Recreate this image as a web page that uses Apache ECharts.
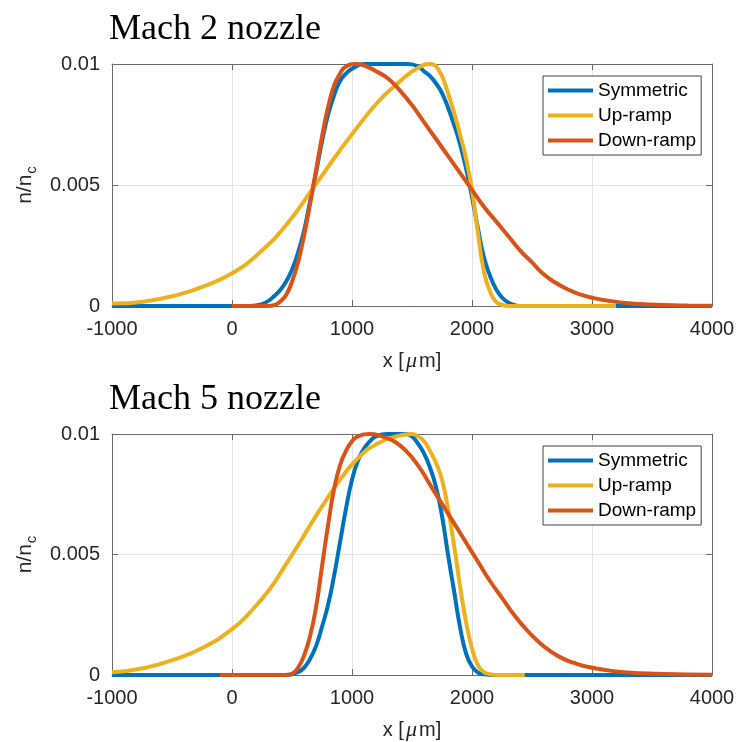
<!DOCTYPE html>
<html>
<head>
<meta charset="utf-8">
<script src="https://cdn.jsdelivr.net/npm/echarts@6/dist/echarts.min.js"></script>
<style>
html,body{margin:0;padding:0;background:#fff;}
#chart{width:740px;height:742px;}
</style>
</head>
<body>
<div id="chart"></div>
<script>
// ---- data (x in micrometres, y = n/n_c) ----
var seriesNames = ['Symmetric', 'Up-ramp', 'Down-ramp'];
var panelTitles = ['Mach 2 nozzle', 'Mach 5 nozzle'];
var xTicks = [-1000, 0, 1000, 2000, 3000, 4000];
var yTicks = [0, 0.005, 0.01];

var m2Symmetric = [[-1000,0],[0,0],[150,0],[200,0.00002],[250,0.00008],[300,0.0002],[350,0.0004],[400,0.00065],[450,0.001],[500,0.0015],[550,0.0022],[600,0.0031],[650,0.0043],[700,0.0055],[750,0.0068],[800,0.0079],[850,0.0087],[900,0.0093],[950,0.0096],[1000,0.0098],[1100,0.01],[1450,0.01],[1550,0.0099],[1600,0.0097],[1650,0.0095],[1700,0.0092],[1750,0.0088],[1800,0.0082],[1850,0.0075],[1900,0.0067],[1950,0.0057],[2000,0.0045],[2050,0.0032],[2100,0.002],[2150,0.00125],[2200,0.0007],[2250,0.00035],[2300,0.00015],[2350,0.00005],[2400,0],[3000,0],[4000,0]];
var m2UpRamp = [[-1000,0.0001],[-740,0.00018],[-460,0.00045],[-240,0.0008],[0,0.00135],[240,0.00225],[460,0.0034],[680,0.0049],[880,0.0063],[1000,0.0071],[1210,0.0084],[1380,0.0092],[1570,0.0099],[1660,0.01],[1700,0.0099],[1750,0.0095],[1800,0.0088],[1850,0.008],[1900,0.0071],[1950,0.0061],[2000,0.0048],[2050,0.003],[2100,0.0014],[2150,0.0006],[2200,0.00018],[2250,0.00005],[2300,0],[2800,0],[3200,0]];
var m2DownRamp = [[0,0],[300,0],[350,0.00003],[400,0.00018],[450,0.00045],[500,0.001],[550,0.0018],[600,0.0029],[650,0.0042],[700,0.0056],[750,0.007],[800,0.0082],[850,0.0091],[900,0.0096],[950,0.0099],[1040,0.01],[1120,0.0099],[1200,0.0097],[1300,0.0094],[1400,0.0089],[1500,0.0083],[1600,0.0076],[1700,0.0069],[1800,0.0062],[1900,0.0055],[2000,0.0048],[2100,0.0041],[2200,0.0035],[2300,0.0029],[2400,0.0023],[2500,0.0018],[2600,0.0013],[2700,0.00095],[2800,0.00068],[2900,0.00048],[3000,0.00034],[3200,0.00017],[3400,0.00008],[3600,0.00004],[3800,0.00002],[4000,0.00001]];

var m5Symmetric = [[-1000,0],[0,0],[450,0],[500,0.00003],[550,0.00012],[600,0.0003],[650,0.00066],[700,0.0012],[750,0.002],[800,0.0029],[850,0.0041],[900,0.0055],[950,0.0069],[1000,0.0081],[1050,0.0089],[1100,0.0094],[1150,0.0097],[1200,0.0099],[1300,0.01],[1450,0.01],[1500,0.0099],[1550,0.0096],[1600,0.0092],[1650,0.0086],[1700,0.0078],[1750,0.0066],[1800,0.005],[1850,0.0035],[1900,0.002],[1950,0.0009],[2000,0.00035],[2050,0.0001],[2100,0.00003],[2170,0],[3000,0],[4000,0]];
var m5UpRamp = [[-1000,0.00011],[-740,0.00028],[-470,0.00066],[-240,0.00114],[0,0.0019],[150,0.0026],[320,0.0036],[450,0.0046],[540,0.0053],[650,0.0062],[790,0.0073],[930,0.0083],[1070,0.0091],[1210,0.0096],[1370,0.0099],[1500,0.01],[1550,0.0099],[1600,0.0097],[1650,0.0093],[1700,0.0088],[1750,0.0081],[1800,0.0069],[1850,0.0054],[1900,0.0037],[1950,0.0022],[2000,0.0011],[2050,0.0004],[2100,0.00012],[2150,0.00003],[2200,0],[2440,0]];
var m5DownRamp = [[-100,0],[450,0],[500,0.00005],[550,0.0003],[600,0.0008],[650,0.0016],[700,0.0028],[750,0.0045],[800,0.0062],[850,0.0077],[900,0.0087],[950,0.0093],[1000,0.0097],[1050,0.0099],[1150,0.01],[1250,0.0099],[1350,0.0097],[1450,0.0093],[1550,0.0087],[1650,0.0079],[1750,0.0071],[1850,0.0063],[1950,0.0055],[2050,0.0047],[2150,0.0039],[2250,0.0032],[2350,0.0025],[2450,0.0019],[2550,0.0014],[2650,0.001],[2750,0.0007],[2850,0.0005],[3000,0.0003],[3200,0.00015],[3400,0.00007],[3600,0.00004],[3800,0.00002],[4000,0.00001]];

var colors = ['#0072BD', '#EDB120', '#D95319'];

// ---- layout ----
var axisColor = '#6b6b6b';
var textColor = '#262626';
var gridTops = [64, 434];
var plotH = 242;

var chart = echarts.init(document.getElementById('chart'), null, {renderer: 'canvas'});

var grids = [], xAxes = [], yAxes = [], titles = [], legends = [], series = [];
var panels = [[m2Symmetric, m2UpRamp, m2DownRamp], [m5Symmetric, m5UpRamp, m5DownRamp]];

function boxAxisLine() {
  return {show: true, onZero: false, lineStyle: {color: axisColor, width: 1}};
}
function inTicks() {
  return {show: true, inside: true, length: 6, lineStyle: {color: axisColor}};
}

panels.forEach(function (sets, p) {
  grids.push({left: 112, width: 600, top: gridTops[p], height: plotH, containLabel: false});
  titles.push({
    text: panelTitles[p], left: 109, top: gridTops[p] - 52, padding: 0,
    textStyle: {fontFamily: 'Liberation Serif', fontSize: 36, fontWeight: 'normal', color: '#000'}
  });
  xAxes.push({
    type: 'value', gridIndex: p, position: 'bottom', min: xTicks[0], max: xTicks[xTicks.length - 1], interval: 1000,
    axisLine: boxAxisLine(), axisTick: inTicks(),
    axisLabel: {fontFamily: 'Liberation Sans', fontSize: 20, color: textColor, margin: 13,
      formatter: function (v) { return String(v); }},
    splitLine: {show: true, lineStyle: {color: '#e3e3e3', width: 1}},
    name: 'x [{mu|μ}m]', nameLocation: 'middle', nameGap: 44,
    nameTextStyle: {fontFamily: 'Liberation Sans', fontSize: 20, color: textColor,
      rich: {mu: {fontFamily: 'Liberation Serif', fontStyle: 'italic', fontSize: 22, color: textColor, padding: [0, 2, 0, 2]}}}
  });
  xAxes.push({
    type: 'value', gridIndex: p, position: 'top', min: xTicks[0], max: xTicks[xTicks.length - 1], interval: 1000,
    axisLine: boxAxisLine(), axisTick: inTicks(),
    axisLabel: {show: false}, splitLine: {show: false}
  });
  yAxes.push({
    type: 'value', gridIndex: p, position: 'left', min: yTicks[0], max: yTicks[yTicks.length - 1], interval: 0.005,
    axisLine: boxAxisLine(), axisTick: inTicks(),
    axisLabel: {fontFamily: 'Liberation Sans', fontSize: 20, color: textColor, margin: 12,
      formatter: function (v) { return String(v); }},
    splitLine: {show: true, lineStyle: {color: '#e3e3e3', width: 1}},
    name: 'n/n{c|c}', nameLocation: 'middle', nameRotate: 90, nameGap: 70,
    nameTextStyle: {fontFamily: 'Liberation Sans', fontSize: 21, color: textColor,
      rich: {c: {fontFamily: 'Liberation Sans', fontSize: 15, color: textColor, padding: [12, 0, 0, 1]}}}
  });
  yAxes.push({
    type: 'value', gridIndex: p, position: 'right', min: yTicks[0], max: yTicks[yTicks.length - 1], interval: 0.005,
    axisLine: boxAxisLine(), axisTick: inTicks(),
    axisLabel: {show: false}, splitLine: {show: false}
  });
  legends.push({
    data: seriesNames, orient: 'vertical', left: 543, top: gridTops[p] + 12,
    padding: [5, 5, 5, 5], itemGap: 6, itemWidth: 45, itemHeight: 4, icon: 'rect',
    backgroundColor: '#fff', borderColor: '#404040', borderWidth: 1, borderRadius: 0,
    textStyle: {fontFamily: 'Liberation Sans', fontSize: 19, color: '#000', padding: [0, 0, 0, 0]},
    selectedMode: false
  });
  sets.forEach(function (d, i) {
    series.push({
      type: 'line', name: seriesNames[i], data: d,
      xAxisIndex: 2 * p, yAxisIndex: 2 * p,
      showSymbol: false, symbol: 'none', smooth: 0.5, clip: false,
      color: colors[i],
      lineStyle: {color: colors[i], width: 4},
      z: 3 + i
    });
  });
});

chart.setOption({
  animation: false,
  backgroundColor: '#fff',
  title: titles,
  legend: legends,
  grid: grids,
  xAxis: xAxes,
  yAxis: yAxes,
  series: series
});
</script>
</body>
</html>
